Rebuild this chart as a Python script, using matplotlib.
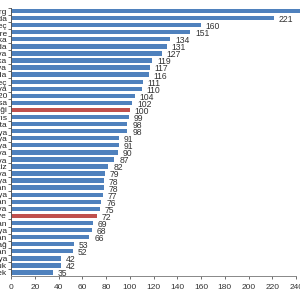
import matplotlib

matplotlib.use("Agg")
import matplotlib.pyplot as plt

countries = [
    "Lüksemburg", "İrlanda", "Norveç", "İsviçre", "Danimarka", "Hollanda",
    "Avusturya", "Belçika", "Almanya", "İzlanda", "İsveç", "Finlandiya",
    "Avro Alanı 20", "Fransa", "Avrupa Birliği", "Kıbrıs", "Malta", "İtalya",
    "Çekya", "Slovenya", "Litvanya", "İspanya", "Portekiz", "Estonya",
    "Polonya", "Macaristan", "Romanya", "Hırvatistan", "Slovakya", "Türkiye",
    "Yunanistan", "Letonya", "Bulgaristan", "Karadağ", "Sırbistan",
    "Kuzey Makedonya", "Arnavutluk", "Bosna-Hersek",
]
values = [
    268, 221, 160, 151, 134, 131, 127, 119, 117, 116, 111, 110,
    104, 102, 100, 99, 98, 98, 91, 91, 90, 87, 82, 79,
    78, 78, 77, 76, 75, 72, 69, 68, 66, 53, 52, 42, 42, 35,
]
highlighted = ["Avrupa Birliği", "Türkiye"]
x_ticks = [0, 20, 40, 60, 80, 100, 120, 140, 160, 180, 200, 220, 240]

blue = "#4f81bd"
red = "#c0504d"

plt.rcParams["font.family"] = ["Liberation Sans", "DejaVu Sans"]

fig = plt.figure(figsize=(3, 3), dpi=100)
ax = fig.add_axes([0.037, 0.08, 0.95, 0.895])

positions = list(range(len(countries)))
colors = [red if name in highlighted else blue for name in countries]
ax.barh(positions, values, height=0.62, color=colors, clip_on=False)

# value labels sit just right of each bar end
for pos, val in zip(positions, values):
    if val <= x_ticks[-1]:
        ax.text(val + 4, pos + 0.2, str(val), va="center", ha="left",
                fontsize=6.2, color="#333333")

ax.set_xlim(0, 240)
ax.set_ylim(len(countries) - 0.5, -0.5)
ax.set_xticks(x_ticks)
ax.set_xticklabels([str(t) for t in x_ticks], fontsize=6, color="#333333")
ax.set_yticks(positions)
ax.set_yticklabels(countries, fontsize=6, color="#222222")
ax.set_yticks([p + 0.5 for p in positions[:-1]] + [-0.5], minor=True)
ax.tick_params(axis="y", which="major", length=0, pad=3)
ax.tick_params(axis="y", which="minor", length=2.5, width=0.6, color="#555555")
ax.tick_params(axis="x", length=2.5, width=0.6, color="#555555", pad=3)

for side in ["top", "right"]:
    ax.spines[side].set_visible(False)
ax.spines["left"].set_color("#555555")
ax.spines["bottom"].set_color("#888888")
ax.spines["left"].set_linewidth(0.7)
ax.spines["bottom"].set_linewidth(0.7)

fig.savefig("out.png", dpi=100)
